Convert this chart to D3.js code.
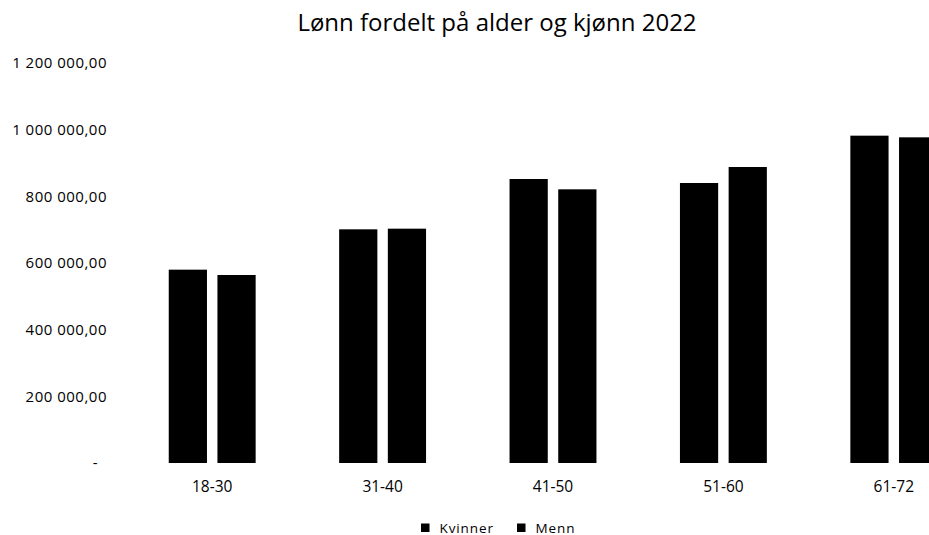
<!DOCTYPE html>
<html>
<head>
<meta charset="utf-8">
<script src="https://cdn.jsdelivr.net/npm/d3@7"></script>
<style>
  body { margin: 0; background: #fff; }
  text { font-family: "Open Sans", "Noto Sans", sans-serif; fill: #000; }
</style>
</head>
<body>
<div class="chart"></div>
<script>
const ageGroups = ["18-30", "31-40", "41-50", "51-60", "61-72"];
const series = ["Kvinner", "Menn"];
const kvinner = [580000, 701000, 852000, 840000, 982000];
const menn = [564000, 703000, 821000, 888000, 977000];
const yTicks = [0, 200000, 400000, 600000, 800000, 1000000, 1200000];

const W = 929, H = 535;
const margin = { top: 63, left: 127, right: -50, bottom: 72 };
const width = W - margin.left - margin.right;
const height = H - margin.top - margin.bottom;

const rows = ageGroups.map((g, i) => ({ group: g, Kvinner: kvinner[i], Menn: menn[i] }));

const root = d3.select(".chart")
  .append("svg")
  .attr("width", W)
  .attr("height", H);

const svg = root.append("g")
  .attr("transform", `translate(${margin.left}, ${margin.top})`);

const xScale = d3.scaleBand()
  .domain(ageGroups)
  .range([0, width])
  .paddingInner(0)
  .paddingOuter(0);

const xInner = d3.scaleBand()
  .domain(series)
  .range([xScale.bandwidth() * 0.245, xScale.bandwidth() * 0.755])
  .paddingInner(0.215);

const yScale = d3.scaleLinear()
  .domain([0, 1200000])
  .range([height, 0]);

const fmt = v => v === 0 ? "-" : d3.format(",.2f")(v).replace(/,/g, " ").replace(".", ",");

// y axis labels
const yAxis = d3.axisLeft(yScale)
  .tickValues(yTicks)
  .tickSize(0)
  .tickPadding(20)
  .tickFormat(fmt);

svg.append("g")
  .attr("class", "axis y-axis")
  .call(yAxis)
  .call(g => g.select(".domain").remove())
  .call(g => g.selectAll("text")
    .attr("font-size", "15px")
    .attr("font-family", "Open Sans, Noto Sans, sans-serif")
    .attr("letter-spacing", "0.5px")
    .attr("fill", "#000"))
  .call(g => g.selectAll(".tick").filter(d => d === 0).select("text").attr("dx", -9));

// bars
const groups = svg.selectAll(".grp")
  .data(rows)
  .enter()
  .append("g")
  .attr("class", "grp")
  .attr("transform", d => `translate(${xScale(d.group)},0)`);

groups.selectAll("rect")
  .data(d => series.map(s => ({ key: s, value: d[s] })))
  .enter()
  .append("rect")
  .attr("x", d => xInner(d.key))
  .attr("width", xInner.bandwidth())
  .attr("y", d => yScale(d.value))
  .attr("height", d => height - yScale(d.value))
  .attr("fill", "#000");

// x axis labels
const xAxis = d3.axisBottom(xScale).tickSize(0).tickPadding(18);
svg.append("g")
  .attr("class", "axis x-axis")
  .attr("transform", `translate(0, ${height})`)
  .call(xAxis)
  .call(g => g.select(".domain").remove())
  .call(g => g.selectAll("text")
    .attr("font-size", "15.5px")
    .attr("font-family", "Open Sans, Noto Sans, sans-serif")
    .attr("fill", "#000"));

// title
root.append("text")
  .attr("x", 497)
  .attr("y", 31)
  .attr("text-anchor", "middle")
  .attr("font-size", "24px")
  .text("Lønn fordelt på alder og kjønn 2022");

// legend
const legendX = [421, 517];
const legend = root.selectAll(".legend")
  .data(series)
  .enter()
  .append("g")
  .attr("class", "legend")
  .attr("transform", (d, i) => `translate(${legendX[i]}, 523.5)`);

legend.append("rect")
  .attr("width", 8.5)
  .attr("height", 8.5)
  .attr("fill", "#000");

legend.append("text")
  .attr("x", 18.5)
  .attr("y", 9)
  .attr("font-size", "13.5px")
  .attr("letter-spacing", "0.9px")
  .text(d => d);
</script>
</body>
</html>
